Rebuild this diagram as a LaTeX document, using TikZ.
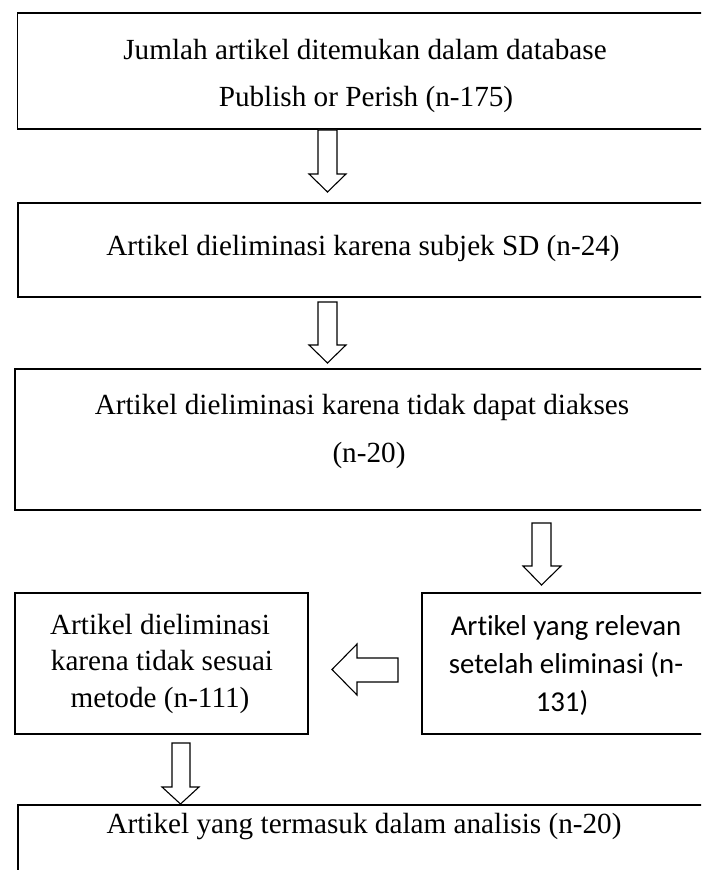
\documentclass[tikz,border=0pt]{standalone}
\usepackage{fontspec}
\setmainfont{Liberation Serif}
\newfontfamily\calibrifont[Ligatures=NoCommon]{Carlito}
\begin{document}
\begin{tikzpicture}[x=0.5pt,y=-0.5pt,
  box/.style={draw, line width=0.8pt, inner sep=0pt, anchor=north west},
  txt/.style={font=\fontsize{14.6}{17}\selectfont, inner sep=0pt, text height=10.2pt, text depth=2.9pt},
  txtc/.style={font=\calibrifont\fontsize{14.4}{17}\selectfont, inner sep=0pt, text height=10.2pt, text depth=2.9pt},
  arr/.style={draw, fill=white, line width=0.55pt, line join=miter}]
\useasboundingbox (0,0) rectangle (701,870);
\clip (0,0) rectangle (701,870);
% boxes
\node[box, minimum width={692.5*0.5pt}, minimum height={116*0.5pt}] (b1) at (16.5,12) {};
\node[txt] (t1a) at (365,52) {Jumlah artikel ditemukan dalam database};
\node[txt] (t1b) at (366,99) {Publish or Perish (n-175)};
\node[box, minimum width={692*0.5pt}, minimum height={94*0.5pt}] (b2) at (17,202) {};
\node[txt] (t2) at (363,248) {Artikel dieliminasi karena subjek SD (n-24)};
\node[box, minimum width={695*0.5pt}, minimum height={141*0.5pt}] (b3) at (14,368) {};
\node[txt] (t3a) at (362,407) {Artikel dieliminasi karena tidak dapat diakses};
\node[txt] (t3b) at (369,455) {(n-20)};
\node[box, minimum width={293*0.5pt}, minimum height={141*0.5pt}] (b4) at (14,592) {};
\node[txt] (t4a) at (160,627) {Artikel dieliminasi};
\node[txt] (t4b) at (162,663) {karena tidak sesuai};
\node[txt] (t4c) at (160,700) {metode (n-111)};
\node[box, minimum width={288*0.5pt}, minimum height={141*0.5pt}] (b5) at (421,592) {};
\node[txtc] (t5a) at (566,628) {Artikel yang relevan};
\node[txtc] (t5b) at (566,666) {setelah eliminasi (n-};
\node[txtc] (t5c) at (562,704) {131)};
\node[box, minimum width={692*0.5pt}, minimum height={100*0.5pt}] (b6) at (17,804) {};
\node[txt] (t6) at (364,826) {Artikel yang termasuk dalam analisis (n-20)};
% block arrows
\draw[arr] (318,130) -- (337,130) -- (337,174) -- (346,174) -- (327.5,192) -- (309,174) -- (318,174) -- cycle;
\draw[arr] (318,302) -- (337,302) -- (337,345) -- (346,345) -- (327.5,363) -- (309,345) -- (318,345) -- cycle;
\draw[arr] (532,523) -- (551,523) -- (551,566) -- (561,566) -- (541.5,585) -- (523,566) -- (532,566) -- cycle;
\draw[arr] (398,658) -- (398,682) -- (357,682) -- (357,695) -- (332,669.5) -- (357,644) -- (357,658) -- cycle;
\draw[arr] (172,743) -- (190,743) -- (190,787) -- (199,787) -- (180.5,804) -- (162,787) -- (172,787) -- cycle;
\end{tikzpicture}
\end{document}
